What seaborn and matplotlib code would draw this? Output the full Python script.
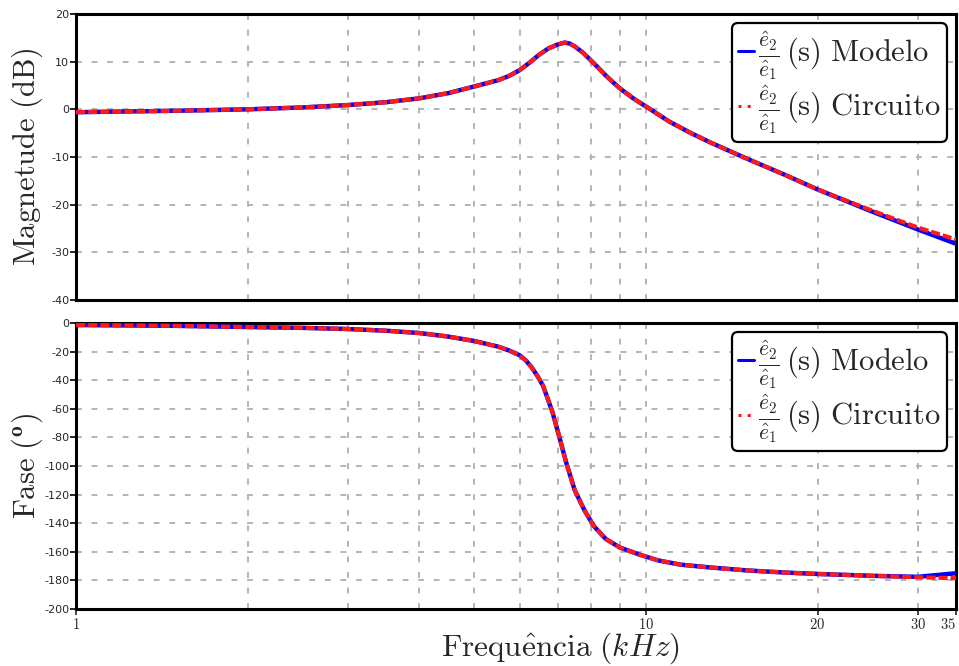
import numpy as np
import pandas as pd
import matplotlib
matplotlib.use("Agg")
import matplotlib.pyplot as plt
import seaborn as sns
from matplotlib.lines import Line2D
from matplotlib.ticker import FixedLocator, NullFormatter

# ---- data ----
freq_mag = [1, 1.5, 2, 2.5, 3, 3.5, 4, 4.5, 5, 5.5, 5.75, 6, 6.25, 6.5, 6.75, 7,
            7.2, 7.35, 7.5, 7.75, 8, 8.25, 8.5, 8.75, 9, 9.5, 10, 11, 12, 13,
            15, 17.5, 20, 25, 30, 35]
mag_modelo = [-0.6, -0.3, 0.0, 0.4, 0.9, 1.5, 2.3, 3.4, 4.8, 6.1, 7.0, 8.2, 9.8,
              11.5, 12.8, 13.6, 14.0, 13.8, 13.2, 11.9, 10.3, 8.7, 7.1, 5.7, 4.4,
              2.3, 0.6, -2.6, -5.0, -7.0, -10.3, -13.7, -16.8, -21.5, -25.2, -28.2]
mag_circuito = [-0.6, -0.3, 0.0, 0.4, 0.9, 1.5, 2.3, 3.4, 4.8, 6.1, 7.0, 8.2, 9.8,
                11.5, 12.8, 13.6, 14.0, 13.8, 13.2, 11.9, 10.3, 8.7, 7.1, 5.7, 4.4,
                2.3, 0.6, -2.6, -5.0, -7.0, -10.3, -13.7, -16.8, -21.3, -24.8, -27.3]

freq_fase = [1, 1.5, 2, 2.5, 3, 3.5, 4, 4.5, 5, 5.5, 5.75, 6, 6.15, 6.3, 6.45, 6.6,
             6.85, 7.05, 7.25, 7.5, 7.8, 8.1, 8.5, 9, 9.75, 10.5, 11.5, 13, 15,
             17.5, 20, 25, 30, 35]
fase_modelo = [-1.4, -2.0, -2.8, -3.4, -4.2, -5.4, -7.0, -9.5, -12.6, -16.5, -19.2,
               -22.5, -26.0, -31, -37, -44, -62, -80, -98, -117, -131, -142, -151,
               -157, -162, -166, -169, -171, -173, -174.5, -175.5, -176.8, -177.5,
               -175.0]
fase_circuito = [-1.4, -2.0, -2.8, -3.4, -4.2, -5.4, -7.0, -9.5, -12.6, -16.5, -19.2,
                 -22.5, -26.0, -31, -37, -44, -62, -80, -98, -117, -131, -142, -151,
                 -157, -162, -166, -169, -171, -173, -174.5, -175.5, -176.8, -177.8,
                 -178.5]

mag_ticks = [-40, -30, -20, -10, 0, 10, 20]
fase_ticks = [-200, -180, -160, -140, -120, -100, -80, -60, -40, -20, 0]
x_major = [1, 10, 20, 30, 35]
x_minor = [2, 3, 4, 5, 6, 7, 8, 9]

label_modelo = r'$\frac{\hat{e}_2}{\hat{e}_1}\,\mathrm{(s)\ Modelo}$'
label_circuito = r'$\frac{\hat{e}_2}{\hat{e}_1}\,\mathrm{(s)\ Circuito}$'

# ---- style ----
sns.set_style("white")
plt.rcParams['font.family'] = ['DejaVu Sans']
plt.rcParams['mathtext.fontset'] = 'cm'

fig = plt.figure(figsize=(9.59, 6.66), dpi=100)
ax1 = fig.add_axes([0.0793, 0.5495, 0.9176, 0.4295])
ax2 = fig.add_axes([0.0793, 0.0856, 0.9176, 0.4294])

blue = '#0000ff'
red = '#ff1a1a'

df_mag = pd.DataFrame({'f': freq_mag, 'm': mag_modelo, 'c': mag_circuito})
df_fase = pd.DataFrame({'f': freq_fase, 'm': fase_modelo, 'c': fase_circuito})

for ax, df, ticks, ylab in [(ax1, df_mag, mag_ticks, r'$\mathrm{Magnetude\ (dB)}$'),
                            (ax2, df_fase, fase_ticks, r'$\mathrm{Fase\ (^{\mathbf{o}})}$')]:
    sns.lineplot(data=df, x='f', y='m', ax=ax, color=blue, lw=3.2, zorder=3)
    sns.lineplot(data=df, x='f', y='c', ax=ax, color=red, lw=3.0,
                 linestyle=(0, (2.2, 0.7)), zorder=4)
    ax.set_xscale('log')
    ax.set_xlim(1, 35)
    ax.set_ylim(ticks[0], ticks[-1])
    ax.set_yticks(ticks)
    ax.set_yticklabels([str(t) for t in ticks], fontsize=8)
    ax.xaxis.set_major_locator(FixedLocator(x_major))
    ax.xaxis.set_minor_locator(FixedLocator(x_minor))
    ax.xaxis.set_minor_formatter(NullFormatter())
    ax.grid(True, which='both', axis='x', color='#b4b4b4', ls=(0, (3, 5)), lw=1.4)
    ax.grid(True, which='major', axis='y', color='#b4b4b4', ls=(0, (3, 5)), lw=1.4)
    for s in ax.spines.values():
        s.set_color('black')
        s.set_linewidth(2.2)
    ax.tick_params(axis='y', which='major', left=True, length=4, width=1.2, pad=1, color='black')
    ax.tick_params(axis='x', which='minor', length=0)
    ax.set_ylabel(ylab, fontsize=22)
    ax.yaxis.set_label_coords(-0.035, 0.5)
    handles = [Line2D([], [], color=blue, lw=2.2),
               Line2D([], [], color=red, lw=2.2, ls=(0, (1, 2)))]
    leg = ax.legend(handles, [label_modelo, label_circuito], loc='upper right',
                    fontsize=22, frameon=True, fancybox=True, handlelength=0.5,
                    handletextpad=0.15, borderpad=0.2, labelspacing=0.05,
                    borderaxespad=0.3, framealpha=1)
    leg.get_frame().set_edgecolor('black')
    leg.get_frame().set_linewidth(1.6)
    ax.set_xlabel('')

ax1.tick_params(axis='x', which='major', bottom=False, labelbottom=False)
ax2.tick_params(axis='x', which='major', bottom=True, length=4, width=1.2, pad=2)
ax2.set_xticklabels([r'$\mathrm{%d}$' % v for v in x_major], fontsize=10.5)
ax2.get_xticklabels()[-1].set_ha('right')
ax2.get_xticklabels()[-1].set_x(35)
ax2.set_xlabel(r'$\mathrm{Frequ\hat{e}ncia}\ (kHz)$', fontsize=22.5)
ax2.xaxis.set_label_coords(0.55, -0.075)

fig.savefig('out.png', dpi=100)
